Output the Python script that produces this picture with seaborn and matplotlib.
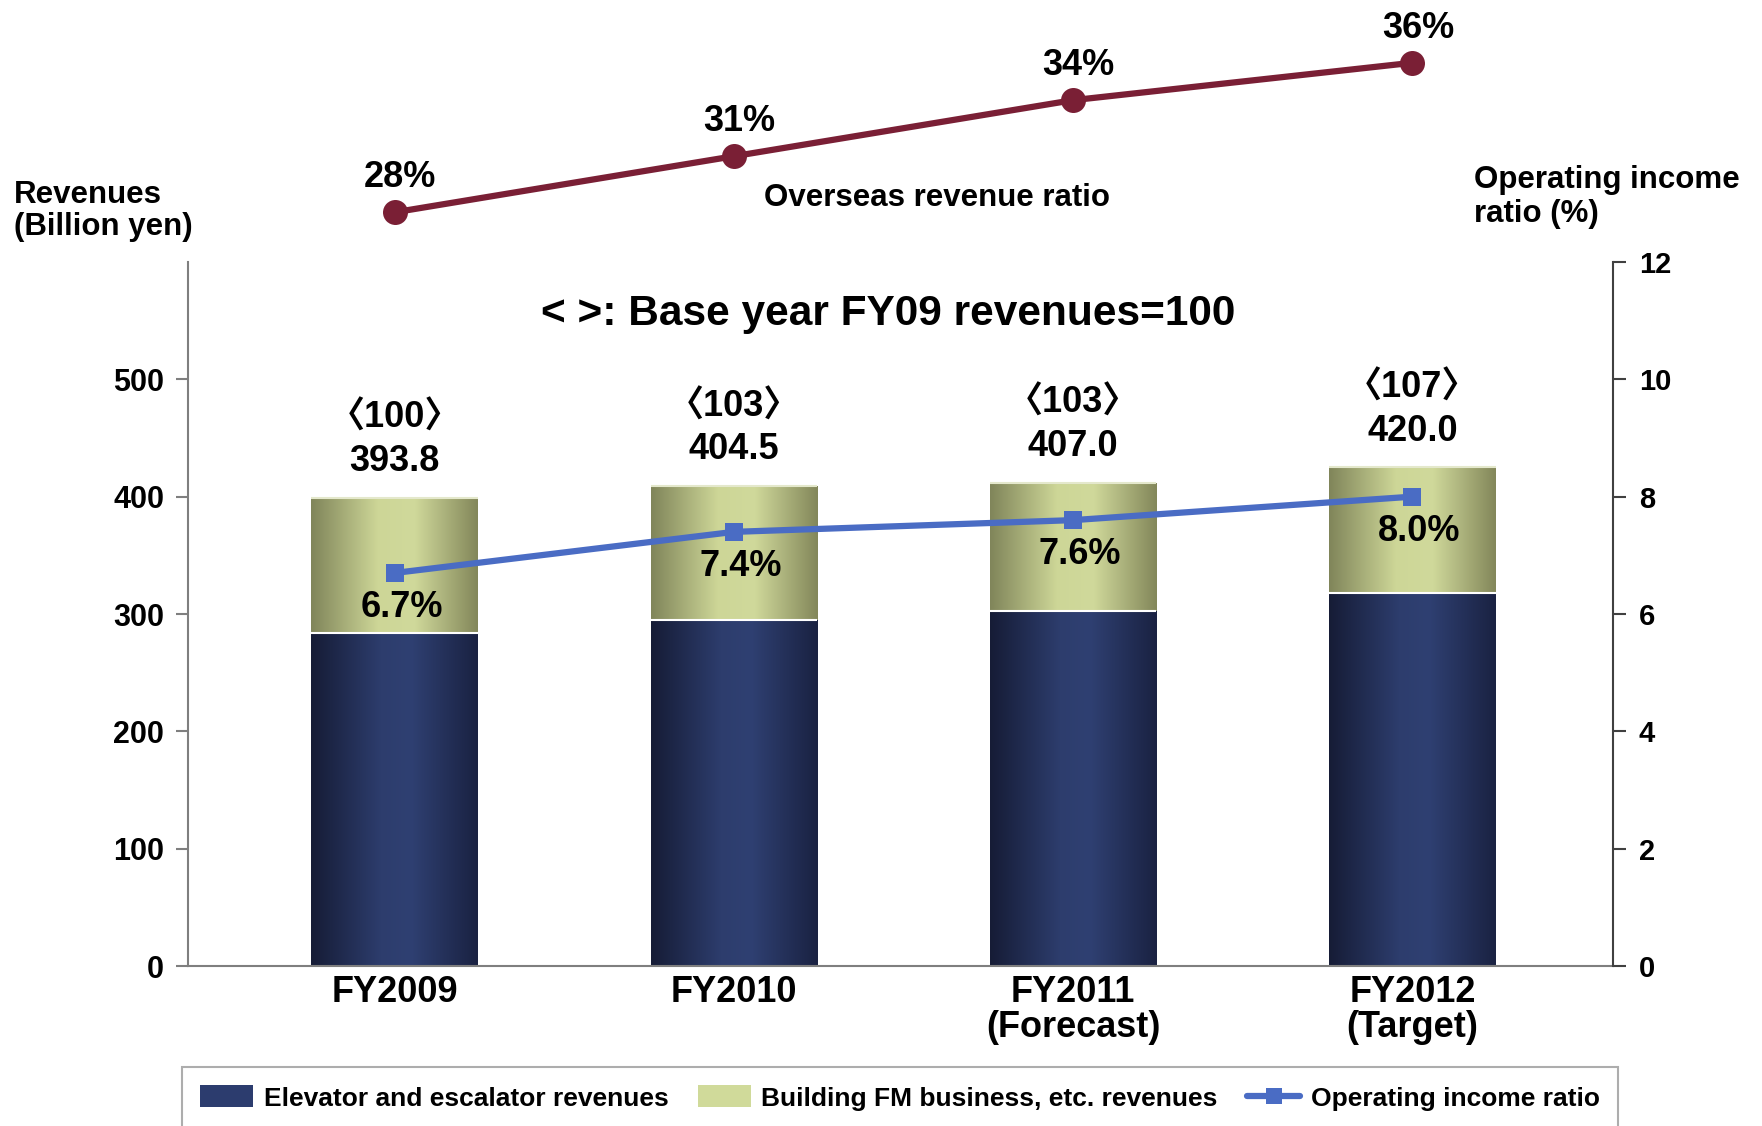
import numpy as np
import pandas as pd
import seaborn as sns
import matplotlib
matplotlib.use("Agg")
import matplotlib.pyplot as plt
from matplotlib.colors import LinearSegmentedColormap
from matplotlib.patches import Patch
from matplotlib.lines import Line2D

# data
categories = ["FY2009", "FY2010", "FY2011\n(Forecast)", "FY2012\n(Target)"]
elevator = [284, 295, 303, 318]          # Elevator and escalator revenues (bar segment)
building = [115, 114, 109, 107]          # Building FM business, etc. revenues (bar segment)
revenue_total = [393.8, 404.5, 407.0, 420.0]
revenue_index = [100, 103, 103, 107]
op_ratio = [6.7, 7.4, 7.6, 8.0]          # Operating income ratio (%)
overseas = [28, 31, 34, 36]              # Overseas revenue ratio (%)

NAVY = "#2c3c6e"
GREEN = "#d0da9a"
BLUE = "#4a6cc4"
MAROON = "#7a1f35"

sns.set_theme(style="white")
plt.rcParams["font.family"] = ["Liberation Sans", "Noto Sans CJK JP", "DejaVu Sans"]
plt.rcParams["font.weight"] = "bold"
plt.rcParams["text.color"] = "black"

df = pd.DataFrame({"cat": categories, "elev": elevator,
                   "total": np.add(elevator, building)})
xpos = np.arange(len(categories))

fig = plt.figure(figsize=(17.62, 11.26), dpi=100)
ax = fig.add_axes([0.1065, 0.1418, 0.8087, 0.6257])

bw = 0.49
sns.barplot(data=df, x="cat", y="total", color=GREEN, width=bw, saturation=1,
            ax=ax, zorder=2)
n_green = len(ax.patches)
sns.barplot(data=df, x="cat", y="elev", color=NAVY, width=bw, saturation=1,
            ax=ax, zorder=2.2)
green_bars = ax.patches[:n_green]
navy_bars = ax.patches[n_green:]


def shade(bars, stops, z):
    cmap = LinearSegmentedColormap.from_list("g", stops)
    grad = np.linspace(0, 1, 256).reshape(1, -1)
    for p in bars:
        x0, y0, w, h = p.get_x(), p.get_y(), p.get_width(), p.get_height()
        im = ax.imshow(grad, cmap=cmap, extent=[x0, x0 + w, y0, y0 + h],
                       aspect="auto", zorder=z, interpolation="bilinear")
        im.set_clip_path(p)


shade(green_bars, [(0, "#80855a"), (0.4, "#cdd697"), (0.62, "#d0d99b"), (1, "#83875a")], 2.1)
shade(navy_bars, [(0, "#161c36"), (0.42, "#2d3d6d"), (0.6, "#2f4072"), (1, "#1a2242")], 2.3)
ax.hlines(elevator, xpos - bw / 2, xpos + bw / 2, color="white", lw=1.5, zorder=3)
ax.hlines(df["total"], xpos - bw / 2, xpos + bw / 2, color="#e4e8cc", lw=1.5, zorder=3)

ax.set_xlim(-0.61, 3.59)
ax.set_ylim(0, 600)
ax.set_yticks(range(0, 600, 100))
ax.set_xlabel("")
ax.set_ylabel("")
for s in ["top", "right"]:
    ax.spines[s].set_visible(False)
for s in ["left", "bottom"]:
    ax.spines[s].set_color("#7f7f7f")
    ax.spines[s].set_linewidth(1.5)
ax.tick_params(axis="y", left=True, length=9, width=1.5, color="#7f7f7f",
               labelcolor="black", labelsize=22, pad=8)
ax.tick_params(axis="x", length=0, labelsize=26, labelcolor="black", pad=6)
for t in ax.get_xticklabels():
    t.set_linespacing(1.0)

for x, tot, idx, top in zip(xpos, revenue_total, revenue_index, df["total"]):
    ax.annotate(f"{tot:.1f}", (x, top), xytext=(0, 26), textcoords="offset points",
                ha="center", va="center", fontsize=26, fontweight="bold", zorder=5)
    ax.annotate(f"\u3008{idx}\u3009", (x, top), xytext=(0, 57), textcoords="offset points",
                ha="center", va="center", fontsize=26, fontweight="bold", zorder=5)

# operating income ratio on right axis
ax2 = ax.twinx()
sns.lineplot(x=xpos, y=op_ratio, ax=ax2, color=BLUE, lw=4.5, marker="s",
             markersize=13, markeredgewidth=0, legend=False)
ax2.set_ylim(0, 12)
ax2.set_yticks(range(0, 13, 2))
ax2.set_xlim(-0.61, 3.59)
for s in ["top", "left", "bottom"]:
    ax2.spines[s].set_visible(False)
ax2.spines["right"].set_color("#404040")
ax2.spines["right"].set_linewidth(1.5)
ax2.tick_params(axis="y", right=True, length=9, width=1.5, color="#404040",
                labelcolor="black", labelsize=21, pad=10)
for x, v in zip(xpos, op_ratio):
    ax2.annotate(f"{v:.1f}%", (x, v), xytext=(5, -25), textcoords="offset points",
                 ha="center", va="center", fontsize=26, fontweight="bold", zorder=6)

# overseas revenue ratio line above the plot
ax3 = fig.add_axes([0.1065, 0.7869, 0.8087, 0.1776])
sns.lineplot(x=xpos, y=overseas, ax=ax3, color=MAROON, lw=4.5, marker="o",
             markersize=18, markeredgewidth=0, legend=False)
ax3.set_xlim(-0.61, 3.59)
ax3.set_ylim(26.52, 37.22)
ax3.axis("off")
for x, v in zip(xpos, overseas):
    ax3.annotate(f"{v}%", (x, v), xytext=(4, 25), textcoords="offset points",
                 ha="center", va="center", fontsize=26, fontweight="bold",
                 annotation_clip=False)

fig.text(937 / 1762, 1 - 198 / 1126, "Overseas revenue ratio", ha="center",
         va="center", fontsize=22.5, fontweight="bold")
fig.text(13.5 / 1762, 1 - 211 / 1126, "Revenues\n(Billion yen)", ha="left",
         va="center", fontsize=22.5, fontweight="bold", linespacing=1.1)
fig.text(1474 / 1762, 1 - 197 / 1126, "Operating income\nratio (%)", ha="left",
         va="center", fontsize=22.5, fontweight="bold", linespacing=1.2)
fig.text(888 / 1762, 1 - 313.5 / 1126, "< >: Base year FY09 revenues=100",
         ha="center", va="center", fontsize=30.5, fontweight="bold")

handles = [Patch(facecolor=NAVY, edgecolor="none"),
           Patch(facecolor=GREEN, edgecolor="none"),
           Line2D([], [], color=BLUE, lw=4.5, marker="s", markersize=12, markeredgewidth=0)]
labels = ["Elevator and escalator revenues", "Building FM business, etc. revenues",
          "Operating income ratio"]
leg = fig.legend(handles, labels, loc="upper left",
                 bbox_to_anchor=(182 / 1762, 0, 1436 / 1762, 1 - 1067 / 1126),
                 mode="expand", ncol=3, fontsize=19, frameon=True, fancybox=False,
                 edgecolor="#999999", borderpad=0.7, handlelength=2.0,
                 handleheight=0.9, handletextpad=0.4, borderaxespad=0)
leg.get_frame().set_linewidth(1.5)
for t in leg.get_texts():
    t.set_fontweight("bold")
    t.set_color("black")

fig.savefig("out.png", dpi=100)
